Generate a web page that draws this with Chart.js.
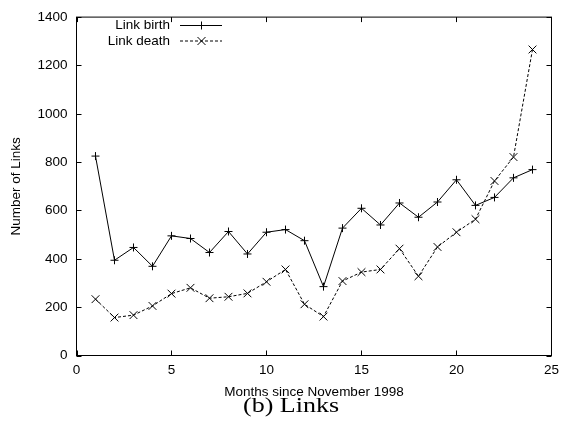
<!DOCTYPE html>
<html>
<head>
<meta charset="utf-8">
<script src="https://cdn.jsdelivr.net/npm/chart.js@4.4.0/dist/chart.umd.min.js"></script>
<style>
  html, body { margin: 0; padding: 0; background: #fff; }
  #wrap { width: 566px; height: 426px; }
</style>
</head>
<body>
<div id="wrap"><canvas id="links-chart" width="566" height="426"></canvas></div>
<script>
// months since November 1998
const months = [1, 2, 3, 4, 5, 6, 7, 8, 9, 10, 11, 12, 13, 14, 15, 16, 17, 18, 19, 20, 21, 22, 23, 24];
const linkBirth = [825, 394, 447, 369, 495, 484, 426, 513, 420, 510, 521, 475, 285, 527, 609, 540, 631, 572, 635, 727, 621, 654, 735, 769];
const linkDeath = [233, 157, 167, 205, 256, 280, 237, 243, 257, 305, 356, 212, 161, 308, 345, 356, 442, 328, 449, 510, 564, 722, 821, 1266];
const xTicks = [0, 5, 10, 15, 20, 25];
const yTicks = [0, 200, 400, 600, 800, 1000, 1200, 1400];

const sans = "'Liberation Sans', Arial, sans-serif";
const fontSize = 13.5;

function toPoints(values) {
    return months.map((m, i) => ({ x: m, y: values[i] }));
}

// gnuplot style box: frame all round, ticks pointing inwards, key in the corner
const gnuplotFrame = {
    id: 'gnuplotFrame',
    afterDraw(chart) {
        const { ctx, chartArea: a, scales: { x, y } } = chart;
        ctx.save();
        ctx.strokeStyle = '#000';
        ctx.lineWidth = 1;
        ctx.strokeRect(a.left, a.top, a.right - a.left, a.bottom - a.top);

        ctx.beginPath();
        x.ticks.forEach(t => {
            const px = Math.round(x.getPixelForValue(t.value)) + 0.5;
            ctx.moveTo(px, a.bottom); ctx.lineTo(px, a.bottom - 5);
            ctx.moveTo(px, a.top); ctx.lineTo(px, a.top + 5);
        });
        y.ticks.forEach(t => {
            const py = Math.round(y.getPixelForValue(t.value)) + 0.5;
            ctx.moveTo(a.left, py); ctx.lineTo(a.left + 5, py);
            ctx.moveTo(a.right, py); ctx.lineTo(a.right - 5, py);
        });
        ctx.stroke();

        // key
        ctx.font = fontSize + 'px ' + sans;
        ctx.fillStyle = '#000';
        ctx.textAlign = 'right';
        ctx.textBaseline = 'middle';
        chart.data.datasets.forEach((ds, i) => {
            const ky = 25.5 + i * 15.5;
            ctx.fillText(ds.label, 170, ky);
            ctx.beginPath();
            ctx.setLineDash(ds.borderDash || []);
            ctx.moveTo(180, ky); ctx.lineTo(222, ky);
            ctx.stroke();
            ctx.setLineDash([]);
            ctx.beginPath();
            const mx = 201.5, r = 4;
            if (ds.pointStyle === 'cross') {
                ctx.moveTo(mx - r, ky); ctx.lineTo(mx + r, ky);
                ctx.moveTo(mx, ky - r); ctx.lineTo(mx, ky + r);
            } else {
                ctx.moveTo(mx - r, ky - r); ctx.lineTo(mx + r, ky + r);
                ctx.moveTo(mx - r, ky + r); ctx.lineTo(mx + r, ky - r);
            }
            ctx.stroke();
        });

        // caption under the plot, set wide like the rest of the figure
        ctx.translate(291, 412);
        ctx.scale(1.3, 1);
        ctx.textAlign = 'center';
        ctx.textBaseline = 'alphabetic';
        ctx.font = "20px 'Liberation Serif', 'Times New Roman', serif";
        ctx.fillText('(b) Links', 0, 0);
        ctx.restore();
    }
};

new Chart(document.querySelector('#links-chart').getContext('2d'), {
    type: 'line',
    data: {
        datasets: [
            {
                label: 'Link birth',
                data: toPoints(linkBirth),
                borderColor: '#000',
                borderWidth: 1,
                pointStyle: 'cross',
                pointRadius: 4,
                pointBorderColor: '#000',
                pointBorderWidth: 1,
                tension: 0,
                fill: false
            },
            {
                label: 'Link death',
                data: toPoints(linkDeath),
                borderColor: '#000',
                borderWidth: 1,
                borderDash: [3, 2],
                pointStyle: 'crossRot',
                pointRadius: 5.5,
                pointBorderColor: '#000',
                pointBorderWidth: 1,
                tension: 0,
                fill: false
            }
        ]
    },
    options: {
        responsive: false,
        animation: false,
        devicePixelRatio: 1,
        layout: { padding: { top: 13.5, right: 11.5, left: 0, bottom: 0 } },
        plugins: {
            legend: { display: false },
            tooltip: { enabled: false }
        },
        scales: {
            x: {
                type: 'linear',
                min: 0,
                max: 25,
                afterBuildTicks: s => { s.ticks = xTicks.map(v => ({ value: v })); },
                afterFit: s => { s.height = 70.5; },
                grid: { display: false, drawTicks: false },
                border: { display: false },
                ticks: { color: '#000', padding: 7, font: { family: sans, size: fontSize }, callback: v => String(v) },
                title: {
                    display: true,
                    text: 'Months since November 1998',
                    color: '#000',
                    font: { family: sans, size: fontSize },
                    padding: { top: 0, bottom: 26 }
                }
            },
            y: {
                min: 0,
                max: 1400,
                afterBuildTicks: s => { s.ticks = yTicks.map(v => ({ value: v })); },
                afterFit: s => { s.width = 76.5; },
                grid: { display: false, drawTicks: false },
                border: { display: false },
                ticks: { color: '#000', padding: 9, font: { family: sans, size: fontSize }, callback: v => String(v) },
                title: {
                    display: true,
                    text: 'Number of Links',
                    color: '#000',
                    font: { family: sans, size: fontSize },
                    padding: { top: 8, bottom: 0 }
                }
            }
        }
    },
    plugins: [gnuplotFrame]
});
</script>
</body>
</html>
